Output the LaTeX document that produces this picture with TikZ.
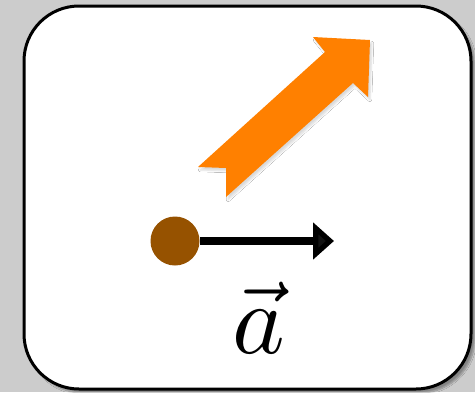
\documentclass[tikz,border=0pt]{standalone}
\usetikzlibrary{arrows.meta,shadows.blur}
\definecolor{bggray}{RGB}{204,204,204}
\definecolor{arroworange}{RGB}{255,128,0}
\definecolor{dotbrown}{RGB}{150,82,0}
\tikzset{
  panel/.style={draw=black, line width=3pt, fill=white, rounded corners=55pt,
    blur shadow={shadow xshift=4pt, shadow yshift=-4pt, shadow blur steps=8, shadow opacity=35}},
  bigarrow/.style={fill=arroworange, draw=none,
    blur shadow={shadow xshift=2pt, shadow yshift=-3pt, shadow blur steps=6, shadow opacity=15}},
  dotnode/.style={circle, fill=dotbrown, minimum size=49pt, inner sep=0pt},
  vecline/.style={line width=7.5pt, -{Triangle[length=21pt, width=36pt]}},
  veclabel/.style={inner sep=0pt, anchor=base}
}
\begin{document}
\begin{tikzpicture}[x=1pt,y=-1pt]
\fill[bggray] (0,0) rectangle (475,392);
\useasboundingbox (0,0) rectangle (475,392);
\path[panel] (24,6) rectangle (471,389);
\path[bigarrow] (198,167) -- (325,52) -- (313,37) -- (370,40) -- (368,97) -- (353,83) -- (226,197) -- (226,168) -- cycle;
\node[dotnode] (dot) at (175,241) {};
\coordinate (vend) at (334,241);
\draw[vecline] (dot.east) -- (vend);
\node[veclabel] (lbl) at (259,353) {\scalebox{10}{$\vec{a}$}};
\end{tikzpicture}
\end{document}
